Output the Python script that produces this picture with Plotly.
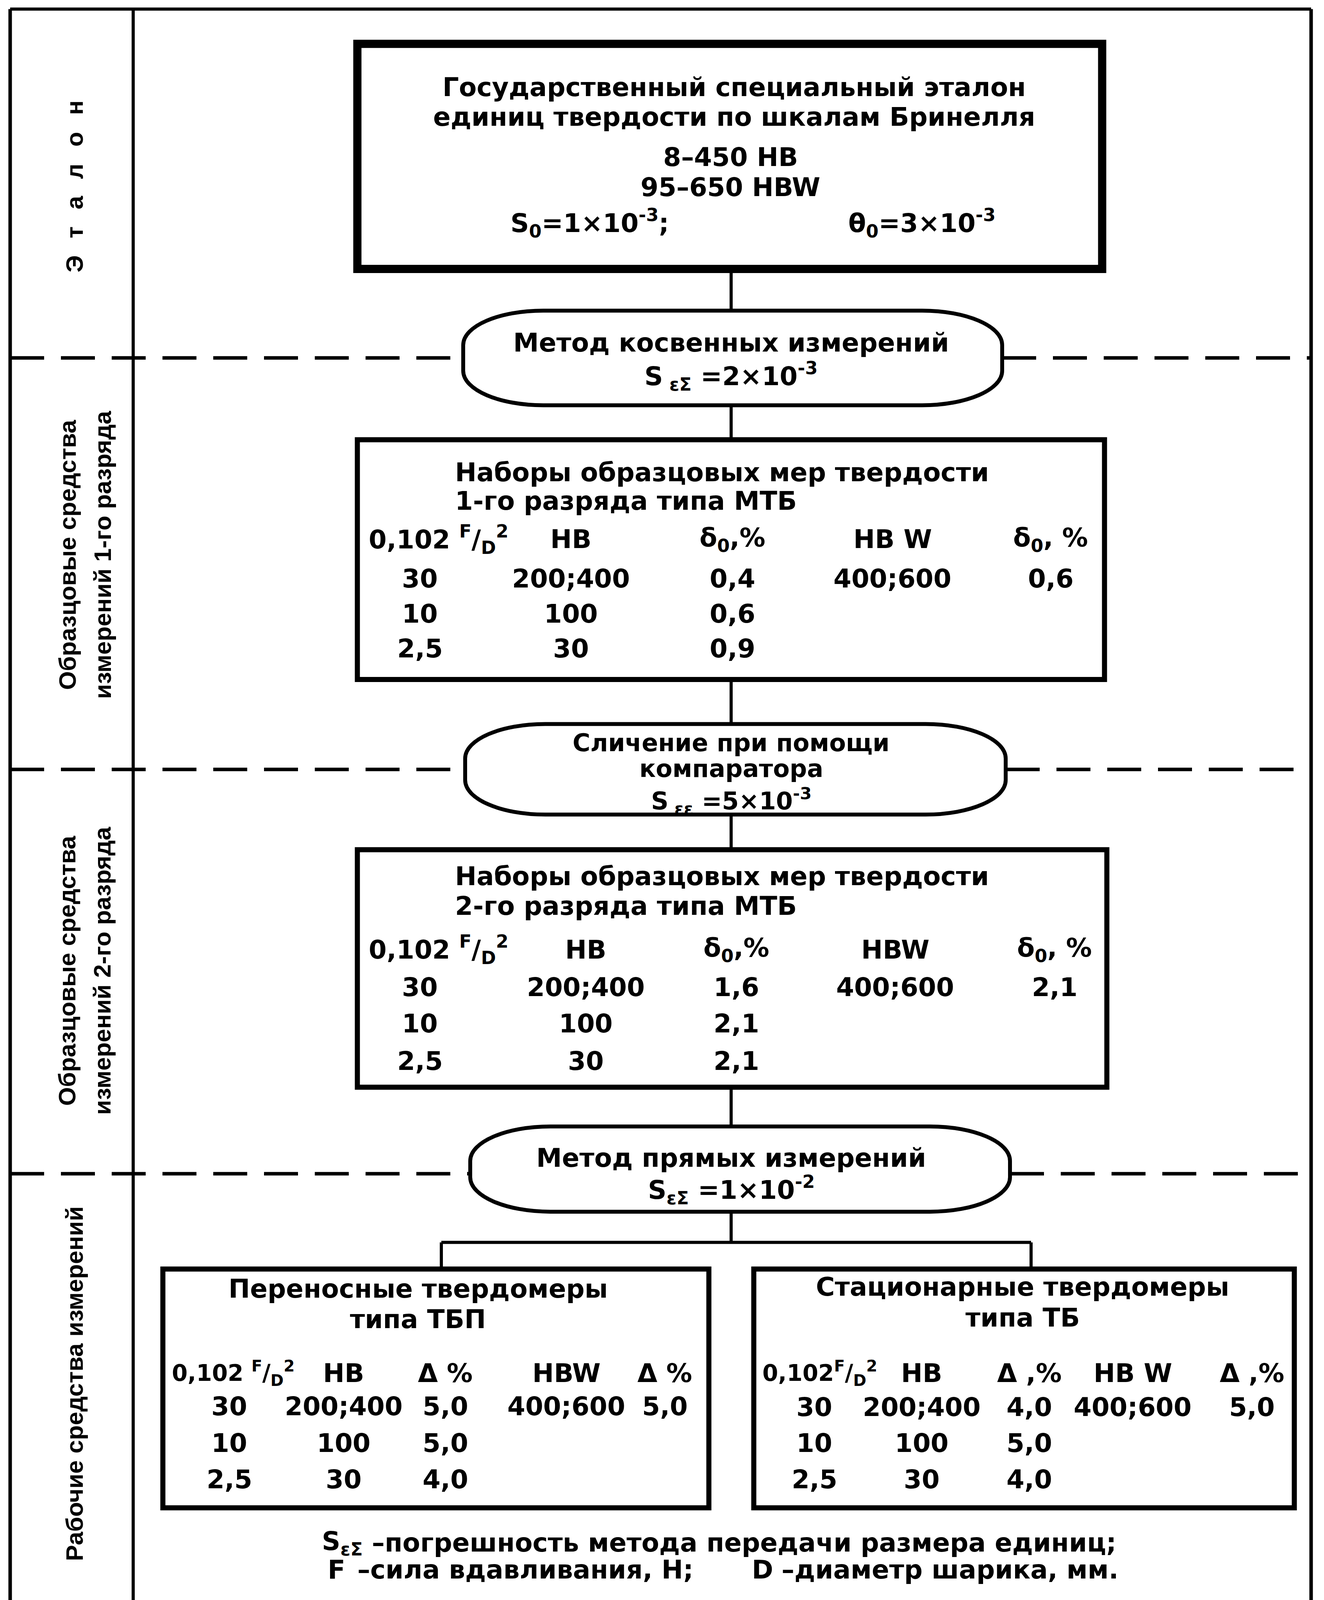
import plotly.graph_objects as go

# ---------------- data (text content of the scheme) ----------------
section_line1 = ["Э\u2002\u2009т\u2002\u2009а\u2002\u2009л\u2002\u2009о\u2002\u2009н",
                 "Образцовые средства", "Образцовые средства", "Рабочие средства измерений"]
section_line2 = ["", "измерений 1-го разряда", "измерений 2-го разряда", ""]

etalon_title = ["Государственный специальный эталон", "единиц твердости по шкалам Бринелля"]
etalon_ranges = ["8–450 HB", "95–650 HBW"]
etalon_s0 = "S<sub>0</sub>=1×10<sup>-3</sup>;"
etalon_theta0 = "θ<sub>0</sub>=3×10<sup>-3</sup>"

method_1_lines = ["Метод косвенных измерений", "S<sub> εΣ</sub> =2×10<sup>-3</sup>"]
method_2_lines = ["Сличение при помощи", "компаратора", "S<sub> εε</sub> =5×10<sup>-3</sup>"]
method_3_lines = ["Метод прямых измерений", "S<sub>εΣ</sub> =1×10<sup>-2</sup>"]

mtb1_title = ["Наборы образцовых мер твердости", "1-го разряда типа МТБ"]
mtb2_title = ["Наборы образцовых мер твердости", "2-го разряда типа МТБ"]
tbp_title = ["Переносные твердомеры", "типа ТБП"]
tb_title = ["Стационарные твердомеры", "типа ТБ"]

ratio_header = "0,102 <sup>F</sup>/<sub>D</sub><sup>2</sup>"
ratio_header_tight = "0,102<sup>F</sup>/<sub>D</sub><sup>2</sup>"
mtb1_header = ["HB", "δ<sub>0</sub>,%", "HB W", "δ<sub>0</sub>, %"]
mtb2_header = ["HB", "δ<sub>0</sub>,%", "HBW", "δ<sub>0</sub>, %"]
tbp_header = ["HB", "Δ %", "HBW", "Δ %"]
tb_header = ["HB", "Δ ,%", "HB W", "Δ ,%"]

load_ratio = ["30", "10", "2,5"]
hb_values = ["200;400", "100", "30"]
hbw_values = ["400;600"]

mtb1_delta_hb = ["0,4", "0,6", "0,9"]
mtb1_delta_hbw = ["0,6"]
mtb2_delta_hb = ["1,6", "2,1", "2,1"]
mtb2_delta_hbw = ["2,1"]
tbp_delta_hb = ["5,0", "5,0", "4,0"]
tbp_delta_hbw = ["5,0"]
tb_delta_hb = ["4,0", "5,0", "4,0"]
tb_delta_hbw = ["5,0"]

footnote_symbols = ["S<sub>εΣ</sub>", "F", "D"]
footnote_texts = ["–погрешность метода передачи размера единиц;",
                  "–сила вдавливания, Н;", "–диаметр шарика, мм."]

# ---------------- layout geometry (reference pixel grid 3390 x 5105) ----------------
W, H = 3390, 5105
FONT = "DejaVu Sans, Liberation Sans, Arial, sans-serif"
LABEL_FONT = "Liberation Sans, Arial, sans-serif"
FS = 66
LABEL_FS = 62
CX = 1872

annotations = []
shapes = []


def txt(x, y, s, size=FS, anchor="center", angle=0, weight="bold", family=FONT):
    annotations.append(dict(
        x=x, y=y, xref="x", yref="y", text=s, showarrow=False,
        xanchor=anchor, yanchor="middle", textangle=angle,
        font=dict(size=size, family=family, color="black", weight=weight)))


def line(x0, y0, x1, y1, width=8, dash=None):
    d = dict(type="line", xref="x", yref="y", x0=x0, y0=y0, x1=x1, y1=y1,
             line=dict(color="black", width=width))
    if dash:
        d["line"]["dash"] = dash
    shapes.append(d)


def rect(x0, y0, x1, y1, width=13):
    shapes.append(dict(type="rect", xref="x", yref="y", x0=x0, y0=y0, x1=x1, y1=y1,
                       line=dict(color="black", width=width), fillcolor="rgba(0,0,0,0)"))


def pill(x0, y0, x1, y1, rx=205, ry=110, width=10):
    k = 0.5523
    p = (f"M {x0+rx},{y0} L {x1-rx},{y0} "
         f"C {x1-rx+k*rx},{y0} {x1},{y0+ry-k*ry} {x1},{y0+ry} "
         f"L {x1},{y1-ry} "
         f"C {x1},{y1-ry+k*ry} {x1-rx+k*rx},{y1} {x1-rx},{y1} "
         f"L {x0+rx},{y1} "
         f"C {x0+rx-k*rx},{y1} {x0},{y1-ry+k*ry} {x0},{y1-ry} "
         f"L {x0},{y0+ry} "
         f"C {x0},{y0+ry-k*ry} {x0+rx-k*rx},{y0} {x0+rx},{y0} Z")
    shapes.append(dict(type="path", xref="x", yref="y", path=p,
                       line=dict(color="black", width=width), fillcolor="white"))


# outer frame
line(26, 29, 3357, 29, width=8)
line(26, 29, 26, H, width=9)
line(341, 29, 341, H, width=8)
line(3357, 29, 3357, H, width=9)

DASH = "87px,43px"
pills = [(1186, 991, 2566, 1293, 1142),
         (1191, 2310, 2575, 2599, 2455),
         (1204, 3594, 2586, 3866, 3745)]

line(CX, 858, CX, 991)
line(CX, 1293, CX, 1403)
line(CX, 2168, CX, 2310)
line(CX, 2599, CX, 2711)
line(CX, 3469, CX, 3594)
line(CX, 3866, CX, 3964)
line(1130, 3964, 2640, 3964)
line(1130, 3964, 1130, 4049)
line(2640, 3964, 2640, 4049)

for (x0, y0, x1, y1, yd) in pills:
    line(26, yd, x0, yd, width=9, dash=DASH)
    line(x1, yd, 3357, yd, width=9, dash=DASH)
    pill(x0, y0, x1, y1)

rect(915, 140, 2822, 858, width=21)
rect(915, 1403, 2828, 2168, width=13)
rect(915, 2711, 2834, 3469, width=13)
rect(417, 4049, 1815, 4811, width=13)
rect(1930, 4049, 3314, 4811, width=13)

label_y = [595, 1770, 3097, 4415]
for i in range(4):
    if section_line2[i]:
        txt(172, label_y[i], section_line1[i], size=LABEL_FS, angle=-90, family=LABEL_FONT)
        txt(262, label_y[i], section_line2[i], size=LABEL_FS, angle=-90, family=LABEL_FONT)
    else:
        txt(190, label_y[i], section_line1[i], size=LABEL_FS, angle=-90, family=LABEL_FONT)

txt(1880, 278, etalon_title[0])
txt(1880, 373, etalon_title[1])
txt(1870, 502, etalon_ranges[0])
txt(1870, 597, etalon_ranges[1])
txt(1510, 712, etalon_s0)
txt(2360, 712, etalon_theta0)

txt(CX, 1094, method_1_lines[0])
txt(CX, 1200, method_1_lines[1])
txt(CX, 2370, method_2_lines[0], size=62)
txt(CX, 2452, method_2_lines[1], size=62)
txt(CX, 2556, method_2_lines[2], size=62)
txt(CX, 3695, method_3_lines[0])
txt(CX, 3796, method_3_lines[1])


def table(title, title_x, title_anchor, title_y, header, hx_ratio, yhead, xcols, yrows,
          dhb, dhbw, rh=ratio_header, rh_size=FS):
    txt(title_x, title_y[0], title[0], anchor=title_anchor)
    txt(title_x, title_y[1], title[1], anchor=title_anchor)
    txt(hx_ratio, yhead, rh, anchor="left", size=rh_size)
    for j, h in enumerate(header):
        txt(xcols[j + 1], yhead, h)
    for i in range(len(load_ratio)):
        txt(xcols[0], yrows[i], load_ratio[i])
        txt(xcols[1], yrows[i], hb_values[i])
        txt(xcols[2], yrows[i], dhb[i])
    for i in range(len(hbw_values)):
        txt(xcols[3], yrows[i], hbw_values[i])
        txt(xcols[4], yrows[i], dhbw[i])


table(mtb1_title, 1163, "left", [1508, 1599], mtb1_header, 942, 1721,
      [1075, 1462, 1875, 2285, 2690], [1847, 1958, 2069], mtb1_delta_hb, mtb1_delta_hbw)
table(mtb2_title, 1163, "left", [2796, 2891], mtb2_header, 942, 3030,
      [1075, 1500, 1885, 2292, 2700], [3150, 3266, 3386], mtb2_delta_hb, mtb2_delta_hbw)
table(tbp_title, 1070, "center", [4112, 4210], tbp_header, 438, 4381,
      [587, 880, 1140, 1450, 1702], [4488, 4605, 4721], tbp_delta_hb, tbp_delta_hbw,
      rh_size=58)
table(tb_title, 2618, "center", [4106, 4204], tb_header, 1950, 4381,
      [2085, 2360, 2635, 2900, 3205], [4490, 4605, 4721], tb_delta_hb, tb_delta_hbw,
      rh=ratio_header_tight, rh_size=58)

txt(822, 4923, footnote_symbols[0], anchor="left")
txt(950, 4923, footnote_texts[0], anchor="left")
txt(837, 5008, footnote_symbols[1], anchor="left")
txt(913, 5008, footnote_texts[1], anchor="left")
txt(1923, 5008, footnote_symbols[2], anchor="left")
txt(1999, 5008, footnote_texts[2], anchor="left")

fig = go.Figure()
fig.update_layout(
    width=W, height=H, margin=dict(l=0, r=0, t=0, b=0),
    paper_bgcolor="white", plot_bgcolor="white",
    xaxis=dict(range=[0, W], visible=False, fixedrange=True),
    yaxis=dict(range=[H, 0], visible=False, fixedrange=True),
    shapes=shapes, annotations=annotations, showlegend=False,
)
# fit the whole scheme into the visible browser window
fit = ("document.body.style.margin='0';"
       "document.body.style.overflow='hidden';"
       "var gd=document.getElementById('{plot_id}');"
       "Plotly.relayout(gd,{width:window.innerWidth,height:window.innerHeight});")
fig.write_html("out.html", config={"displayModeBar": False}, post_script=fit)
